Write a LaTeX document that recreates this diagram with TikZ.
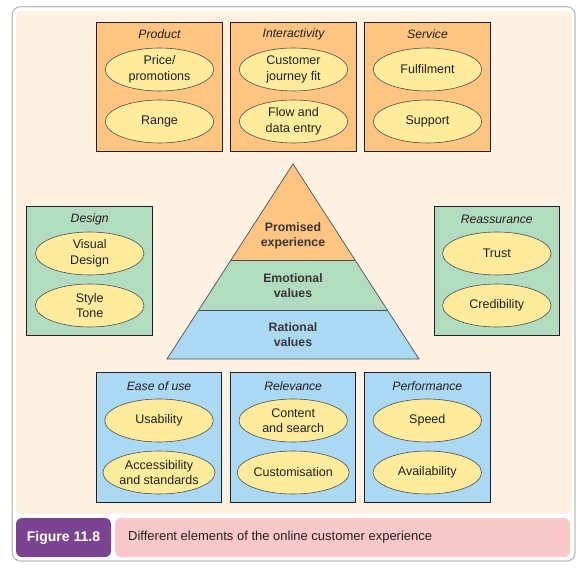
\documentclass[tikz,border=0pt]{standalone}
\usepackage{fontspec}
\setmainfont{Liberation Sans}
\usetikzlibrary{shapes.geometric}
\definecolor{frameg}{HTML}{BDBDBD}
\definecolor{beige}{HTML}{FDF1E3}
\definecolor{orangef}{HTML}{FDC581}
\definecolor{greenf}{HTML}{B2DCBF}
\definecolor{bluef}{HTML}{ABD8F2}
\definecolor{yellowf}{HTML}{FFEB9C}
\definecolor{purplef}{HTML}{7B4490}
\definecolor{pinkf}{HTML}{F9C8CB}
\definecolor{inkc}{HTML}{231F20}
\tikzset{
  catbox/.style={draw=inkc, line width=1pt, minimum width=125.5pt, minimum height=129.6pt, inner sep=0pt},
  cattitle/.style={font=\fontsize{12.2}{13}\selectfont\itshape, text=inkc, inner sep=0pt},
  elem/.style={ellipse, draw=inkc!80, line width=0.6pt, fill=yellowf, minimum width=108.5pt, minimum height=43pt, inner sep=0pt, align=center, font=\fontsize{12.5}{15.5}\selectfont, text=inkc},
  pyrtext/.style={align=center, font=\fontsize{12.3}{15}\selectfont\bfseries, text=inkc!90, inner sep=0pt},
  pyrline/.style={draw=inkc!80, line width=0.7pt}
}
\begin{document}
\begin{tikzpicture}[x=1pt,y=-1pt]
\useasboundingbox (0,0) rectangle (580,572);
% frame
\draw[frameg, line width=1.2pt, fill=white, rounded corners=8pt] (12.3,6.7) rectangle (575,561);
\fill[beige, rounded corners=6pt] (15.7,11) rectangle (571,514);
\node[fill=purplef, rounded corners=6pt, minimum width=95pt, minimum height=39pt, inner sep=0pt, text=white, font=\fontsize{14}{16}\selectfont\bfseries] (fig) at (63.5,537.5) {Figure 11.8};
\node[fill=pinkf, rounded corners=6pt, minimum width=455pt, minimum height=39pt, inner sep=0pt] (cap) at (342.5,537.5) {};
\node[anchor=west, inner sep=0pt, font=\fontsize{13}{14}\selectfont, text=inkc] (captext) at (128,537.5) {Different elements of the online customer experience};

% top row
\node[catbox, fill=orangef] (product) at (159.5,87) {};
\node[cattitle] (productt) at (159.5,34.5) {Product};
\node[elem] (price) at (159.5,69.5) {Price/\\promotions};
\node[elem] (range) at (159.5,121.5) {Range};

\node[catbox, fill=orangef] (inter) at (293.5,87) {};
\node[cattitle] (intert) at (293.5,34.5) {Interactivity};
\node[elem] (journey) at (293.5,69.5) {Customer\\journey fit};
\node[elem] (flow) at (293.5,121.5) {Flow and\\data entry};

\node[catbox, fill=orangef] (service) at (427.5,87) {};
\node[cattitle] (servicet) at (427.5,34.5) {Service};
\node[elem] (fulfil) at (427.5,69.5) {Fulfilment};
\node[elem] (support) at (427.5,121.5) {Support};

% middle row
\node[catbox, fill=greenf] (design) at (89.7,271) {};
\node[cattitle] (designt) at (89.7,219) {Design};
\node[elem] (visual) at (89.7,253.5) {Visual\\Design};
\node[elem] (style) at (89.7,305.5) {Style\\Tone};

\node[catbox, fill=greenf] (reass) at (496.8,271) {};
\node[cattitle] (reasst) at (496.8,219) {Reassurance};
\node[elem] (trust) at (496.8,253.5) {Trust};
\node[elem] (cred) at (496.8,305.5) {Credibility};

% pyramid
\coordinate (apex) at (293,164);
\coordinate (l1) at (231,260.3); \coordinate (r1) at (355,260.3);
\coordinate (l2) at (199,310); \coordinate (r2) at (387,310);
\coordinate (l3) at (167,359); \coordinate (r3) at (419,359);
\fill[orangef] (apex) -- (r1) -- (l1) -- cycle;
\fill[greenf] (l1) -- (r1) -- (r2) -- (l2) -- cycle;
\fill[bluef] (l2) -- (r2) -- (r3) -- (l3) -- cycle;
\draw[pyrline] (apex) -- (r3) -- (l3) -- cycle;
\draw[pyrline] (l1) -- (r1);
\draw[pyrline] (l2) -- (r2);
\node[pyrtext] (promised) at (293,235.5) {Promised\\experience};
\node[pyrtext] (emotional) at (293,285.5) {Emotional\\values};
\node[pyrtext] (rational) at (293,335) {Rational\\values};

% bottom row
\node[catbox, fill=bluef] (ease) at (159,437.5) {};
\node[cattitle] (easet) at (159,386) {Ease of use};
\node[elem] (usab) at (159,420.5) {Usability};
\node[elem] (access) at (159,472.5) {Accessibility\\and standards};

\node[catbox, fill=bluef] (relev) at (293.2,437.5) {};
\node[cattitle] (relevt) at (293.2,386) {Relevance};
\node[elem] (content) at (293.2,420.5) {Content\\and search};
\node[elem] (custom) at (293.2,472.5) {Customisation};

\node[catbox, fill=bluef] (perf) at (427.3,437.5) {};
\node[cattitle] (perft) at (427.3,386) {Performance};
\node[elem] (speed) at (427.3,420.5) {Speed};
\node[elem] (avail) at (427.3,472.5) {Availability};
\end{tikzpicture}
\end{document}
